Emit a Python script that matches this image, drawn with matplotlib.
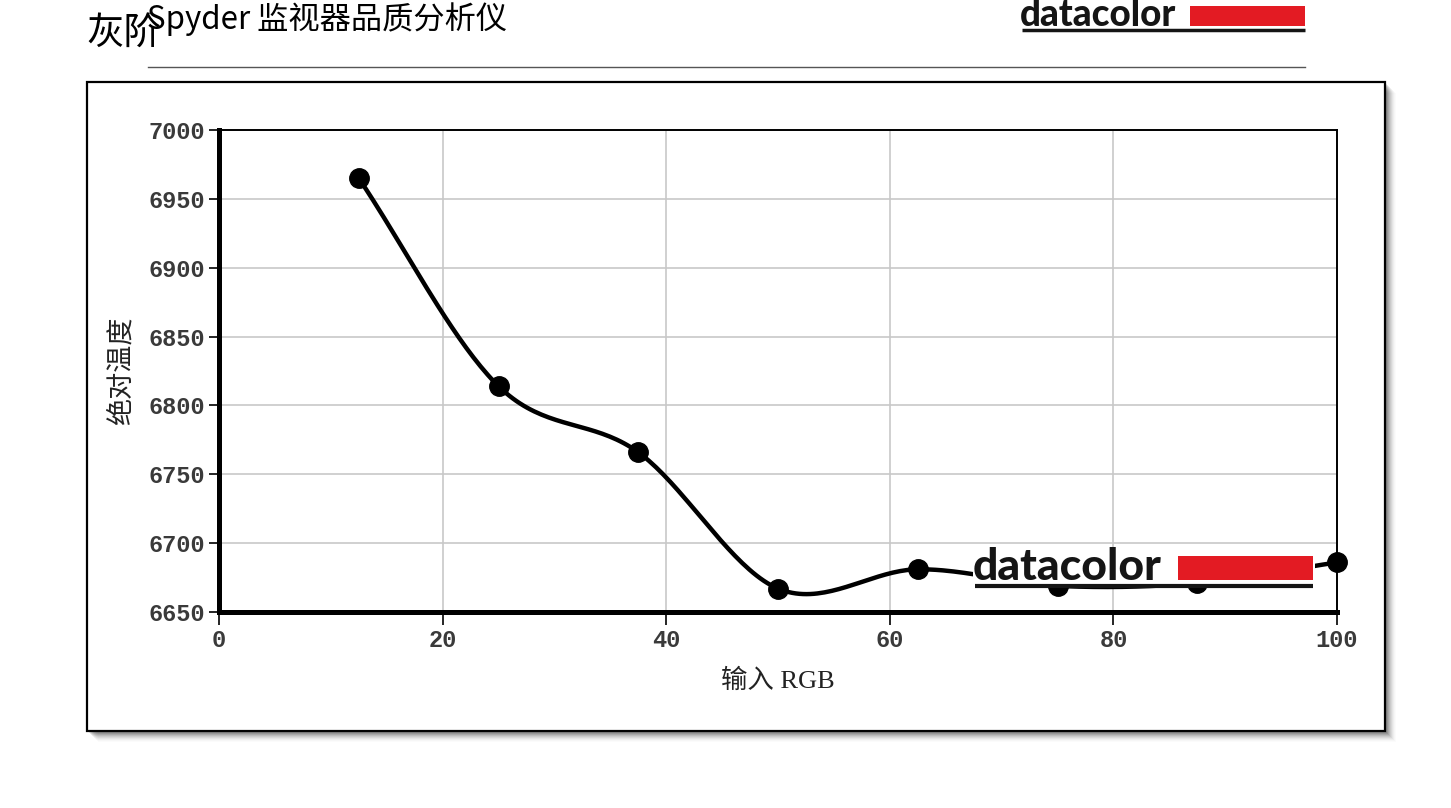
import numpy as np
import matplotlib
matplotlib.use("Agg")
import matplotlib.pyplot as plt
from matplotlib.patches import Rectangle
from matplotlib.lines import Line2D

plt.rcParams['font.family'] = ['Noto Sans CJK SC', 'DejaVu Sans']

# ---- data ----
input_rgb = [12.5, 25, 37.5, 50, 62.5, 75, 87.5, 100]
abs_temp = [6965, 6814, 6766, 6667, 6681, 6669, 6671, 6686]
x_ticks = [0, 20, 40, 60, 80, 100]
y_ticks = [6650, 6700, 6750, 6800, 6850, 6900, 6950, 7000]
title_left = "灰阶"
title_main = "Spyder 监视器品质分析仪"
x_label = "输入 RGB"
y_label = "绝对温度"
logo_text = "datacolor"

W, H = 1451, 808
fig = plt.figure(figsize=(W / 100, H / 100), dpi=100)


def fx(x):
    return x / W


def fy(y):
    return 1 - y / H


# ---- header ----
fig.text(fx(86), fy(44), title_left, fontsize=27, va='baseline', ha='left', color='black')
fig.text(fx(147), fy(29), title_main, fontsize=22.5, va='baseline', ha='left', color='black')
fig.add_artist(Line2D([fx(148), fx(1305)], [fy(67), fy(67)], color='#555555', lw=1.0))


def draw_logo(x0, x_text_end, x1, y_top, y_base, size, rect_top, rect_bot, line_y, line_w, bg=False):
    if bg:
        fig.patches.append(Rectangle((fx(x0 - 2), fy(line_y - 2)), fx(x1 + 2) - fx(x0 - 2),
                                     fy(y_top) - fy(line_y - 2), transform=fig.transFigure,
                                     facecolor='white', edgecolor='none', zorder=5))
    fig.text(fx(x0 - 2), fy(y_base), logo_text, fontsize=size, fontweight='black', family='Lato',
             va='baseline', ha='left', color='#151515', zorder=6)
    fig.patches.append(Rectangle((fx(x_text_end), fy(rect_bot)), fx(x1) - fx(x_text_end),
                                 fy(rect_top) - fy(rect_bot), transform=fig.transFigure,
                                 facecolor='#e31b23', edgecolor='none', zorder=6))
    fig.add_artist(Line2D([fx(x0), fx(x1)], [fy(line_y), fy(line_y)], color='#151515',
                          lw=line_w, zorder=6, solid_capstyle='butt'))


draw_logo(1022, 1190, 1305, 0, 26, 26.5, 6, 26, 29.5, 2.5)

# ---- framed chart image with shadow ----
for i, a in enumerate([0.10, 0.10, 0.09, 0.08, 0.06, 0.05, 0.04, 0.03, 0.02, 0.015]):
    d = i + 2
    fig.patches.append(Rectangle((fx(87 + d), fy(731 + d)), fx(1385) - fx(87), fy(82) - fy(731),
                                 transform=fig.transFigure, facecolor='black', alpha=a,
                                 edgecolor='none', zorder=0))
fig.patches.append(Rectangle((fx(87), fy(731)), fx(1385) - fx(87), fy(82) - fy(731),
                             transform=fig.transFigure, facecolor='white', edgecolor='black',
                             lw=1.6, zorder=1))

# ---- axes ----
ax = fig.add_axes([fx(219), fy(612), fx(1337) - fx(219), fy(130) - fy(612)])
ax.set_zorder(2)
ax.patch.set_alpha(0)
ax.set_xlim(0, 100)
ax.set_ylim(6650, 7000)
ax.set_xticks(x_ticks)
ax.set_yticks(y_ticks)
ax.grid(True, color='#c8c8c8', lw=1.2)
ax.set_axisbelow(True)
for s in ['left', 'bottom']:
    ax.spines[s].set_linewidth(3.6)
for s in ['top', 'right']:
    ax.spines[s].set_linewidth(1.4)
ax.tick_params(axis='both', direction='out', color='black', width=1.2,
               labelcolor='#3a3a3a', labelsize=17)
ax.tick_params(axis='y', length=7, pad=3)
ax.tick_params(axis='x', length=9, pad=3)
for lab in ax.get_xticklabels() + ax.get_yticklabels():
    lab.set_family('Liberation Mono')
    lab.set_fontweight('bold')

# smooth curve through the points (Catmull-Rom in pixel-proportional space)
px = np.array(input_rgb) / 100 * 1118
py = (np.array(abs_temp) - 6650) / 350 * 482
P = np.column_stack([px, py])
P_ext = np.vstack([2 * P[0] - P[1], P, 2 * P[-1] - P[-2]])
pts = []
t = np.linspace(0, 1, 40)[:, None]
for i in range(1, len(P_ext) - 2):
    p0, p1, p2, p3 = P_ext[i - 1], P_ext[i], P_ext[i + 1], P_ext[i + 2]
    seg = 0.5 * ((2 * p1) + (-p0 + p2) * t + (2 * p0 - 5 * p1 + 4 * p2 - p3) * t ** 2
                 + (-p0 + 3 * p1 - 3 * p2 + p3) * t ** 3)
    pts.append(seg)
curve = np.vstack(pts)
cx = curve[:, 0] / 1118 * 100
cy = curve[:, 1] / 482 * 350 + 6650
ax.plot(cx, cy, color='black', lw=3.2, solid_capstyle='round', clip_on=False)
ax.plot(input_rgb, abs_temp, 'o', color='black', ms=14, clip_on=False)

ax.set_xlabel(x_label, fontsize=19, labelpad=12, color='#222222',
              family=['Liberation Serif', 'Noto Sans CJK SC'])
ax.set_ylabel(y_label, fontsize=19.5, labelpad=10, color='#222222')

# ---- watermark logo inside chart ----
draw_logo(975, 1178, 1313, 547, 580, 32, 556, 580, 586, 3, bg=True)

fig.savefig("out.png", dpi=100)
